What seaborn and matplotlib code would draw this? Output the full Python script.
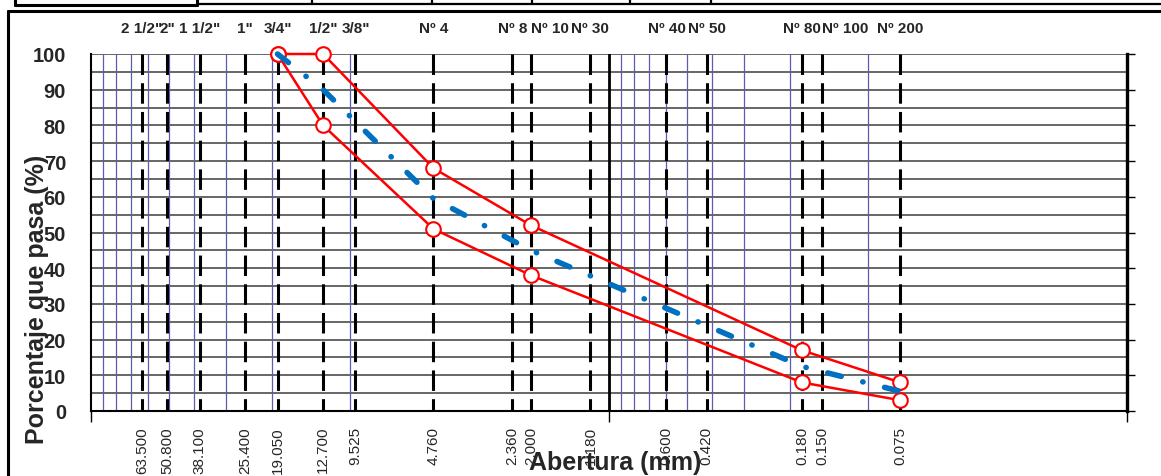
import matplotlib
matplotlib.use("Agg")
import matplotlib.pyplot as plt
from matplotlib.lines import Line2D
import pandas as pd
import seaborn as sns

# Sieve openings (mm), names on top and values on bottom
sieve_mm = [63.5, 50.8, 38.1, 25.4, 19.05, 12.7, 9.525, 4.76, 2.36, 2.0, 1.18,
            0.6, 0.42, 0.18, 0.15, 0.075]
sieve_names = ['2 1/2"', '2"', '1 1/2"', '1"', '3/4"', '1/2"', '3/8"', 'Nº 4',
               'Nº 8', 'Nº 10', 'Nº 30', 'Nº 40', 'Nº 50', 'Nº 80', 'Nº 100', 'Nº 200']
sieve_labels = ["63.500", "50.800", "38.100", "25.400", "19.050", "12.700", "9.525",
                "4.760", "2.360", "2.000", "1.180", "0.600", "0.420", "0.180",
                "0.150", "0.075"]

# Gradation band (upper / lower limits) and middle curve
band_mm = [19.05, 12.7, 4.76, 2.0, 0.18, 0.075]
upper_pct = [100, 100, 68, 52, 17, 8]
lower_pct = [100, 80, 51, 38, 8, 3]
mid_pct = [100, 90, 59.5, 45, 12.5, 5.5]

# light blue log grid lines drawn in the chart
blue_grid_mm = [90, 80, 70, 60, 50, 40, 30, 20, 10,
                0.9, 0.8, 0.7, 0.6, 0.5, 0.4, 0.3, 0.2, 0.1]

sns.set_theme(style="white")
plt.rcParams['font.family'] = ['Liberation Sans', 'DejaVu Sans']

W, H = 1161, 477
fig = plt.figure(figsize=(W / 100, H / 100), dpi=100)
ax = fig.add_axes([91 / W, 1 - 412 / H, (1127 - 91) / W, (412 - 55) / H])

ax.set_xscale("log")
ax.set_xlim(100, 0.01)
ax.set_ylim(0, 100)

# grid
for g in blue_grid_mm:
    ax.axvline(g, color="#5c5cb8", lw=0.9, zorder=1)
for yv in range(5, 101, 5):
    ax.axhline(yv, color="#666666", lw=1.4, zorder=1)
ax.axvline(1.0, color="black", lw=2.0, zorder=2)
for s in sieve_mm:
    ax.plot([s, s], [100, 0], color="black", lw=2.2,
            linestyle=(0, (6.7, 2.7)), zorder=2)

band = pd.DataFrame({"mm": band_mm, "upper": upper_pct, "lower": lower_pct, "mid": mid_pct})

for col in ["upper", "lower"]:
    sns.lineplot(data=band, x="mm", y=col, ax=ax, sort=False, estimator=None,
                 color="red", lw=1.8, marker="o", markersize=10.5,
                 markerfacecolor="white", markeredgecolor="red",
                 markeredgewidth=1.5, clip_on=False, zorder=4)
sns.lineplot(data=band, x="mm", y="mid", ax=ax, sort=False, estimator=None,
             color="#0070c0", lw=4.0, linestyle=(0, (2.5, 4.0, 0.05, 4.0)),
             dash_capstyle="round", clip_on=False, zorder=5)

# axes styling
ax.set_xlabel("")
ax.set_ylabel("")
ax.set_yticks(range(0, 101, 10))
ax.set_yticklabels([str(v) for v in range(0, 101, 10)], fontsize=14.5, fontweight="bold")
ax.tick_params(axis="y", left=False, right=True, labelright=False, length=6,
               width=1, color="black", pad=12, direction="out")
ax.set_xticks([100, 1, 0.01])
ax.set_xticks([], minor=True)
ax.set_xticklabels([])
ax.tick_params(axis="x", bottom=True, length=8, width=1, color="black", direction="out")
for side in ["left", "bottom"]:
    ax.spines[side].set_color("black")
    ax.spines[side].set_linewidth(1.5)
ax.spines["top"].set_visible(False)
ax.spines["right"].set_color("black")
ax.spines["right"].set_linewidth(2.4)

# sieve names on top, openings below
xtr = ax.get_xaxis_transform()
for s, name in zip(sieve_mm, sieve_names):
    ha = "left" if name in ("Nº 10", "Nº 100") else "center"
    ax.text(s, 1.072, name, transform=xtr, ha=ha, va="center",
            fontsize=11, fontweight="bold", clip_on=False)
for s, lab in zip(sieve_mm, sieve_labels):
    ax.text(s, -0.042, lab, transform=xtr, ha="center", va="top", rotation=90,
            fontsize=11, clip_on=False)

fig.text(37 / W, 1 - 299 / H, "Porcentaje que pasa (%)", rotation=90,
         ha="center", va="center", fontsize=18, fontweight="bold")
fig.text(615 / W, 1 - 463 / H, "Abertura (mm)", ha="center", va="center",
         fontsize=18, fontweight="bold")


# spreadsheet borders around the chart
def px_line(x0, y0, x1, y1, lw):
    fig.add_artist(Line2D([x0 / W, x1 / W], [1 - y0 / H, 1 - y1 / H],
                          transform=fig.transFigure, color="black", lw=lw))


px_line(8, 12, W, 12, 2.2)
px_line(8, 12, 8, H, 2.2)
px_line(15, 0, 15, 6, 2.2)
px_line(197, 0, 197, 6, 2.2)
px_line(15, 6, 197, 6, 2.2)
px_line(197, 5, W, 5, 1.6)
for xv in [312, 432, 532, 630, 711]:
    px_line(xv, 0, xv, 5, 1.6)

fig.savefig("out.png", dpi=100)
